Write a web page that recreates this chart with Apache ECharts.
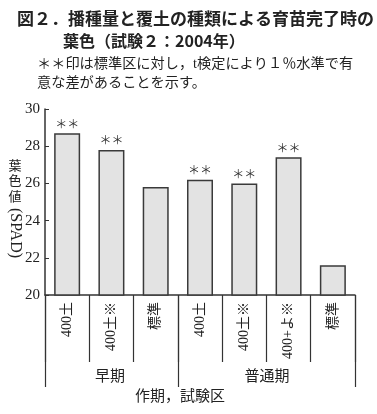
<!DOCTYPE html>
<html>
<head>
<meta charset="utf-8">
<script src="https://cdn.jsdelivr.net/npm/echarts@6/dist/echarts.min.js"></script>
<style>
html,body{margin:0;padding:0;background:#fff;}
#main{width:377px;height:414px;}
</style>
</head>
<body>
<div id="main"></div>
<script>
// 試験区（作期ごと）
var categories = ['400土', '400土※', '標準', '400土', '400土※', '400+よ※', '標準'];
var spadValues = [28.7, 27.8, 25.8, 26.2, 26.0, 27.4, 21.6]; // 葉色値(SPAD)
var signifMarks = ['＊＊', '＊＊', '', '＊＊', '＊＊', '＊＊', ''];   // 1%水準で有意
var groupNames = ['早期', '普通期'];
var groupStart = [0, 3]; // 各作期の先頭カテゴリ
var yTicks = [20, 22, 24, 26, 28, 30];

var serifFont = '"Liberation Serif", "Noto Sans CJK JP", serif';
var jpFont = '"Noto Sans CJK JP", sans-serif';
var textColor = '#222';

var chart = echarts.init(document.getElementById('main'));

//縦書きの軸名
var yNameChars = ['葉', '色', '値'];
var yNameGraphic = yNameChars.map(function (c, i) {
	return {type: 'text', x: 15, y: 165 + i * 15.5,
		style: {text: c, font: '13px ' + jpFont, fill: textColor, align: 'center', verticalAlign: 'middle'}};
});

var option = {
	backgroundColor: '#fff',
	animation: false,
	title: [
		{
			text: '図２．播種量と覆土の種類による育苗完了時の',
			left: 12, top: 5,
			textStyle: {fontFamily: jpFont, fontSize: 17, fontWeight: 'bold', color: textColor}
		},
		{
			text: '葉色（試験２：2004年）',
			left: 58, top: 28,
			textStyle: {fontFamily: jpFont, fontSize: 16, fontWeight: 'bold', color: textColor}
		},
		{
			text: '＊＊印は標準区に対し，t検定により１％水準で有',
			left: 32, top: 52,
			textStyle: {fontFamily: serifFont, fontSize: 14.2, fontWeight: 'normal', color: textColor}
		},
		{
			text: '意な差があることを示す。',
			left: 32, top: 71,
			textStyle: {fontFamily: serifFont, fontSize: 14.2, fontWeight: 'normal', color: textColor}
		}
	],
	grid: {left: 45, right: 22, top: 109, bottom: 119, containLabel: false},
	xAxis: [
		{
			type: 'category',
			data: categories,
			boundaryGap: true,
			axisLine: {show: true, lineStyle: {color: '#333', width: 1.5}},
			axisTick: {show: true, interval: 0, length: 67, lineStyle: {color: '#333', width: 1.2}},
			axisLabel: {
				interval: 0, rotate: 90, margin: 7,
				fontFamily: serifFont, fontSize: 14, color: textColor
			}
		},
		{
			// 作期の区切り線
			type: 'category',
			data: categories,
			position: 'bottom',
			boundaryGap: true,
			axisLine: {show: false},
			axisLabel: {show: false},
			axisTick: {
				show: true, length: 92,
				interval: function (i) { return groupStart.indexOf(i) >= 0; },
				lineStyle: {color: '#333', width: 1.2}
			}
		}
	],
	yAxis: {
		type: 'value',
		min: yTicks[0],
		max: yTicks[yTicks.length - 1],
		interval: 2,
		axisLine: {show: true, lineStyle: {color: '#333', width: 1.5}},
		axisTick: {show: true, inside: true, length: 4, lineStyle: {color: '#333'}},
		axisLabel: {margin: 5, fontFamily: serifFont, fontSize: 15, color: textColor},
		splitLine: {show: false}
	},
	series: [{
		type: 'bar',
		data: spadValues,
		barWidth: 26,
		itemStyle: {color: '#e3e3e3', borderColor: '#3a3a3a', borderWidth: 1.5},
		label: {
			show: true,
			position: 'top',
			distance: 3,
			fontFamily: jpFont,
			fontSize: 12,
			color: '#333',
			formatter: function (p) { return signifMarks[p.dataIndex]; }
		}
	}],
	graphic: yNameGraphic.concat([
		{type: 'text', x: 15, y: 233, rotation: -Math.PI / 2,
			style: {text: '(SPAD)', font: '16px ' + serifFont, fill: textColor, align: 'center', verticalAlign: 'middle'}},
		{type: 'text', x: 110, y: 377, style: {text: groupNames[0], font: '15px ' + serifFont, fill: textColor, align: 'center', verticalAlign: 'middle'}},
		{type: 'text', x: 267, y: 377, style: {text: groupNames[1], font: '15px ' + serifFont, fill: textColor, align: 'center', verticalAlign: 'middle'}},
		{type: 'text', x: 180, y: 397, style: {text: '作期，試験区', font: '15px ' + serifFont, fill: textColor, align: 'center', verticalAlign: 'middle'}}
	])
};
chart.setOption(option);
</script>
</body>
</html>
